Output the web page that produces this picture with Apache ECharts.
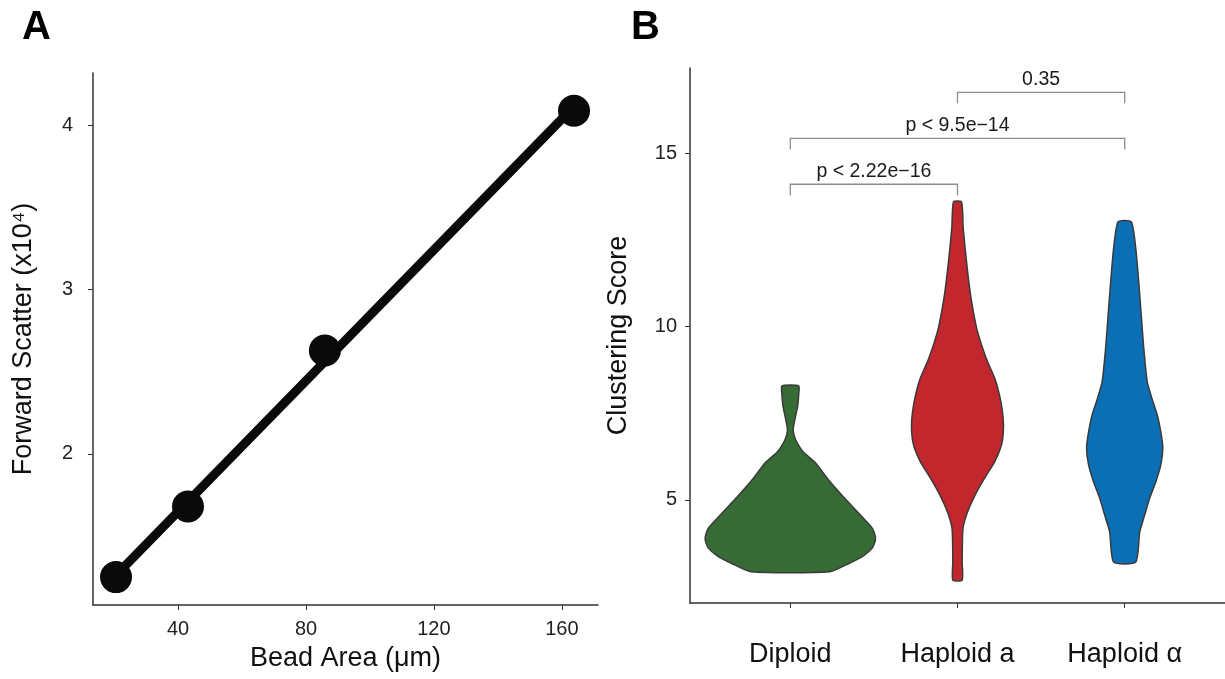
<!DOCTYPE html>
<html>
<head>
<meta charset="utf-8">
<script src="https://cdn.jsdelivr.net/npm/echarts@6/dist/echarts.min.js"></script>
<style>
  html, body { margin: 0; padding: 0; background: #fff; }
  #main { width: 1225px; height: 679px; }
</style>
</head>
<body>
<div id="main"></div>
<script>
// A: bead calibration
var beadArea = [20.6, 43.1, 85.9, 163.8];
var forwardScatter = [1.25, 1.68, 2.63, 4.09];
var beadTicks = [40, 80, 120, 160];
var scatterTicks = [2, 3, 4];

// B: clustering score violins (half widths in category units)
var groups = ['Diploid', 'Haploid a', 'Haploid α'];
var scoreTicks = [5, 10, 15];
var diploidScore = [8.29, 8.03, 7.74, 7.45, 7.16, 7.02, 6.84, 6.64, 6.38, 6.07, 5.58, 5.09, 4.63, 4.22, 4.05, 3.85, 3.62, 3.39, 3.16, 2.93];
var diploidWidth = [0.050, 0.050, 0.045, 0.033, 0.021, 0.017, 0.024, 0.042, 0.078, 0.150, 0.228, 0.317, 0.407, 0.485, 0.503, 0.509, 0.491, 0.437, 0.347, 0.234];
var haploidAScore = [13.59, 12.84, 11.86, 10.91, 9.96, 9.47, 8.98, 8.52, 8.03, 7.54, 7.07, 6.59, 6.10, 5.63, 5.14, 4.65, 4.19, 3.70, 3.21, 2.69];
var haploidAWidth = [0.024, 0.034, 0.054, 0.078, 0.114, 0.144, 0.180, 0.222, 0.251, 0.269, 0.275, 0.263, 0.222, 0.162, 0.105, 0.060, 0.033, 0.029, 0.028, 0.028];
var haploidAlphaScore = [13.02, 12.26, 11.28, 10.33, 9.38, 8.40, 7.94, 7.45, 6.96, 6.50, 6.01, 5.52, 5.06, 4.57, 4.08, 3.21];
var haploidAlphaWidth = [0.039, 0.066, 0.084, 0.099, 0.114, 0.135, 0.162, 0.195, 0.216, 0.228, 0.216, 0.186, 0.150, 0.120, 0.090, 0.066];

// comparisons
var bracketFrom = [1, 1, 2];
var bracketTo = [2, 3, 3];
var bracketY = [14.1, 15.42, 16.75];
var bracketText = ['p < 2.22e\u221216', 'p < 9.5e\u221214', '0.35'];

var groupColors = ['#366b35', '#c1272d', '#0b6fb6'];
var violinScores = [diploidScore, haploidAScore, haploidAlphaScore];
var violinWidths = [diploidWidth, haploidAWidth, haploidAlphaWidth];

// least squares line through the bead points
function fitLine(xs, ys) {
  var n = xs.length, mx = 0, my = 0;
  for (var i = 0; i < n; i++) { mx += xs[i] / n; my += ys[i] / n; }
  var sxy = 0, sxx = 0;
  for (var j = 0; j < n; j++) {
    sxy += (xs[j] - mx) * (ys[j] - my);
    sxx += (xs[j] - mx) * (xs[j] - mx);
  }
  var slope = sxy / sxx;
  return function (x) { return my + slope * (x - mx); };
}
var fit = fitLine(beadArea, forwardScatter);
var xFirst = beadArea[0], xLast = beadArea[beadArea.length - 1];

var axisColor = '#333';
var font = 'Liberation Sans, Arial, Helvetica, sans-serif';

var chart = echarts.init(document.getElementById('main'));
chart.setOption({
  animation: false,
  textStyle: { fontFamily: font },
  graphic: [
    { type: 'text', x: 22, y: 28, style: { text: 'A', font: 'bold 40px ' + font, fill: '#000', verticalAlign: 'middle' } },
    { type: 'text', x: 631, y: 28, style: { text: 'B', font: 'bold 40px ' + font, fill: '#000', verticalAlign: 'middle' } }
  ],
  grid: [
    { left: 93, top: 73, width: 505, height: 532 },
    { left: 690, top: 68, width: 535, height: 535 }
  ],
  xAxis: [
    {
      type: 'value', gridIndex: 0, min: 13.4, max: 171.3,
      name: 'Bead Area (μm)', nameLocation: 'middle', nameGap: 40,
      nameTextStyle: { fontSize: 27, color: '#111' },
      axisLine: { lineStyle: { color: axisColor, width: 1.5 } },
      axisTick: { customValues: beadTicks, length: 5, lineStyle: { color: axisColor } },
      axisLabel: { customValues: beadTicks, fontSize: 20, color: '#222', margin: 14 },
      splitLine: { show: false }
    },
    {
      type: 'value', gridIndex: 1, min: 0.4, max: 3.6,
      axisLine: { lineStyle: { color: axisColor, width: 1.5 } },
      axisTick: { customValues: [1, 2, 3], length: 5, lineStyle: { color: axisColor } },
      axisLabel: {
        customValues: [1, 2, 3], fontSize: 27, color: '#111', margin: 38,
        formatter: function (v) { return groups[Math.round(v) - 1]; }
      },
      splitLine: { show: false }
    }
  ],
  yAxis: [
    {
      type: 'value', gridIndex: 0, min: 1.08, max: 4.32,
      name: 'Forward Scatter (x10⁴)', nameLocation: 'middle', nameGap: 56,
      nameTextStyle: { fontSize: 27, color: '#111' },
      axisLine: { lineStyle: { color: axisColor, width: 1.5 } },
      axisTick: { customValues: scatterTicks, length: 5, lineStyle: { color: axisColor } },
      axisLabel: { customValues: scatterTicks, fontSize: 20, color: '#222', margin: 20 },
      splitLine: { show: false }
    },
    {
      type: 'value', gridIndex: 1, min: 2.03, max: 17.45,
      name: 'Clustering Score', nameLocation: 'middle', nameGap: 58,
      nameTextStyle: { fontSize: 27, color: '#111' },
      axisLine: { lineStyle: { color: axisColor, width: 1.5 } },
      axisTick: { customValues: scoreTicks, length: 5, lineStyle: { color: axisColor } },
      axisLabel: { customValues: scoreTicks, fontSize: 20, color: '#222', margin: 13 },
      splitLine: { show: false }
    }
  ],
  series: [
    {
      type: 'line', xAxisIndex: 0, yAxisIndex: 0,
      data: [[xFirst, fit(xFirst)], [xLast, fit(xLast)]],
      symbol: 'none', z: 2,
      lineStyle: { color: '#0a0a0a', width: 9 }
    },
    {
      type: 'scatter', xAxisIndex: 0, yAxisIndex: 0,
      data: beadArea.map(function (x, i) { return [x, forwardScatter[i]]; }),
      symbolSize: 32, z: 3,
      itemStyle: { color: '#0a0a0a', opacity: 1 }
    },
    {
      type: 'custom', xAxisIndex: 1, yAxisIndex: 1,
      data: groups.map(function (g, i) { return [i]; }),
      renderItem: function (params, api) {
        var i = api.value(0);
        var sc = violinScores[i], hw = violinWidths[i];
        var pts = [], k;
        for (k = 0; k < sc.length; k++) pts.push(api.coord([i + 1 + hw[k], sc[k]]));
        for (k = sc.length - 1; k >= 0; k--) pts.push(api.coord([i + 1 - hw[k], sc[k]]));
        return {
          type: 'polygon',
          shape: { points: pts, smooth: 0.2 },
          style: { fill: groupColors[i], stroke: '#3a3a3a', lineWidth: 1.5 }
        };
      }
    },
    {
      type: 'custom', xAxisIndex: 1, yAxisIndex: 1,
      data: bracketFrom.map(function (f, i) { return [f, bracketTo[i], bracketY[i], i]; }),
      encode: { x: [0, 1], y: 2 },
      renderItem: function (params, api) {
        var a = api.coord([api.value(0), api.value(2)]);
        var b = api.coord([api.value(1), api.value(2)]);
        var drop = 11;
        return {
          type: 'group',
          children: [
            {
              type: 'polyline',
              shape: { points: [[a[0], a[1] + drop], a, b, [b[0], b[1] + drop]] },
              style: { stroke: '#8c8c8c', lineWidth: 1.3, fill: null }
            },
            {
              type: 'text',
              x: (a[0] + b[0]) / 2, y: a[1] - 3,
              style: {
                text: bracketText[api.value(3)], fill: '#1a1a1a',
                font: '19.5px ' + font, align: 'center', verticalAlign: 'bottom'
              }
            }
          ]
        };
      }
    }
  ]
});
</script>
</body>
</html>
